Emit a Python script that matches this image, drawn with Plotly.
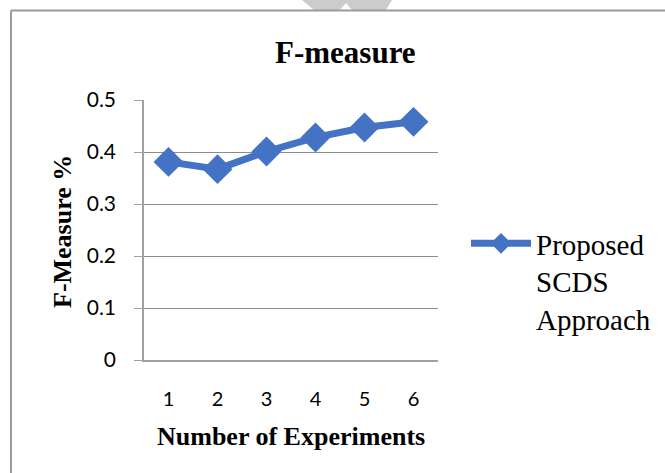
import plotly.graph_objects as go

# F-measure per experiment run
experiments = ["1", "2", "3", "4", "5", "6"]
f_measure = [0.381, 0.367, 0.401, 0.428, 0.447, 0.458]
y_ticks = [0, 0.1, 0.2, 0.3, 0.4, 0.5]
y_tick_text = ["0", "0.1", "0.2", "0.3", "0.4", "0.5"]

W, H = 665, 473
L, R, T, B = 144, 438, 100, 360  # plot area in pixels


def px(x):
    return (x - L) / (R - L)


def py(y):
    return (B - y) / (B - T)


blue = "#4472C4"
serif = "Liberation Serif, Times New Roman, serif"
sans = "Lato, Calibri, sans-serif"

fig = go.Figure()
fig.add_trace(go.Scatter(
    x=experiments, y=f_measure,
    mode="lines+markers",
    name="Proposed<br>SCDS<br>Approach",
    line=dict(color=blue, width=7),
    marker=dict(symbol="diamond", size=23, color=blue),
))

fig.update_layout(
    width=W, height=H,
    margin=dict(l=L, r=W - R, t=T, b=H - B, autoexpand=False),
    paper_bgcolor="white", plot_bgcolor="white",
    showlegend=True,
    legend=dict(
        x=px(466), y=py(218), xanchor="left", yanchor="top",
        font=dict(family=serif, size=29, color="black"),
        valign="top", itemwidth=60, bgcolor="rgba(0,0,0,0)",
    ),
    xaxis=dict(
        type="category", range=[-0.5, 5.5],
        showline=True, linecolor="#a0a0a0", linewidth=1.5,
        showgrid=False, ticks="", zeroline=False,
        tickfont=dict(family=sans, size=20, color="black"),
        ticklabelstandoff=20,
    ),
    yaxis=dict(
        range=[0, 0.5], tickvals=y_ticks, ticktext=y_tick_text,
        showline=True, linecolor="#a0a0a0", linewidth=1.5,
        showgrid=True, gridcolor="#8c8c8c", gridwidth=1.2,
        ticks="outside", ticklen=8, tickcolor="#a0a0a0",
        zeroline=False,
        tickfont=dict(family=sans, size=21, color="black"),
        ticklabelstandoff=14,
    ),
    annotations=[
        dict(text="<b>F-measure</b>", x=px(345), y=py(52), xref="paper", yref="paper",
             xanchor="center", yanchor="middle", showarrow=False,
             font=dict(family=serif, size=31, color="black")),
        dict(text="<b>Number of Experiments</b>", x=px(291), y=py(436),
             xref="paper", yref="paper", xanchor="center", yanchor="middle",
             showarrow=False, font=dict(family=serif, size=26, color="black")),
        dict(text="<b>F-Measure %</b>", x=px(62), y=py(232), xref="paper", yref="paper",
             xanchor="center", yanchor="middle", showarrow=False, textangle=-90,
             font=dict(family=serif, size=26, color="black")),
    ],
    shapes=[
        # chart frame (top and left edges)
        dict(type="line", xref="paper", yref="paper", x0=px(11), x1=px(665),
             y0=py(10.5), y1=py(10.5), line=dict(color="#9a9a9a", width=2)),
        dict(type="line", xref="paper", yref="paper", x0=px(11), x1=px(11),
             y0=py(10.5), y1=py(473), line=dict(color="#9a9a9a", width=2)),
        # grey mark at top edge
        dict(type="path", xref="paper", yref="paper", layer="below",
             path=(f"M {px(302)},{py(0)} L {px(392)},{py(0)} L {px(386)},{py(10)} "
                   f"L {px(352)},{py(10)} L {px(346)},{py(3)} L {px(340)},{py(10)} "
                   f"L {px(314)},{py(10)} Z"),
             fillcolor="#cccccc", line=dict(width=0)),
    ],
)

fig.write_html("out.html")
